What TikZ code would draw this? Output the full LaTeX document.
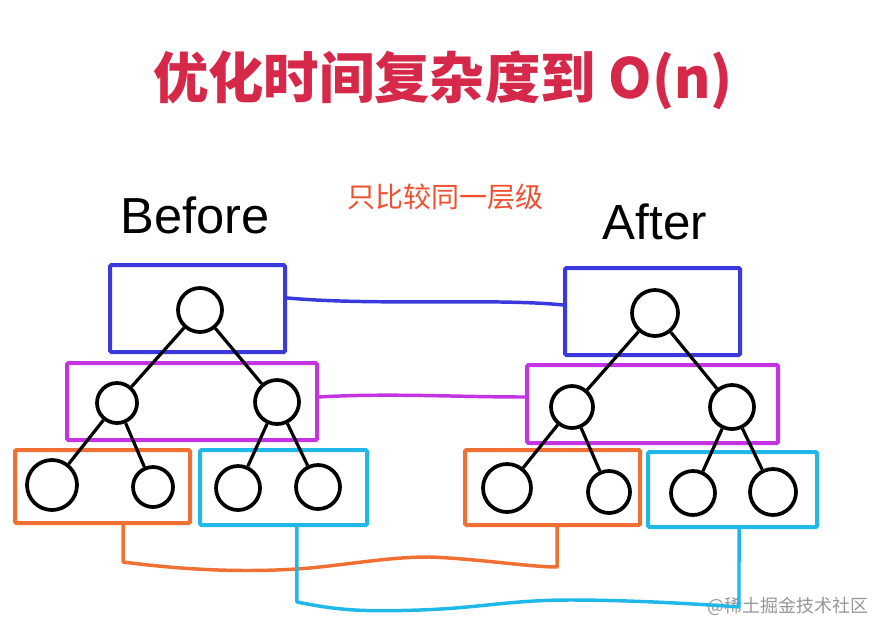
\documentclass[tikz,border=0pt]{standalone}
\usepackage{fontspec}
\setmainfont{Liberation Sans}
\newfontfamily\cjk{Noto Sans CJK SC}
\definecolor{titlered}{RGB}{214,40,72}
\definecolor{noteorange}{RGB}{240,80,48}
\definecolor{lvlblue}{RGB}{58,58,220}
\definecolor{lvlmag}{RGB}{196,52,226}
\definecolor{lvlorange}{RGB}{240,112,52}
\definecolor{lvlcyan}{RGB}{32,184,232}
\definecolor{wmgray}{RGB}{150,150,150}
\tikzset{
  lvlbox/.style={draw=#1, line width=3pt, rounded corners=1pt, inner sep=0pt, rectangle},
  tnode/.style={draw=black, line width=2.8pt, circle, inner sep=0pt, fill=white},
  edge/.style={draw=black, line width=2.4pt},
  link/.style={draw=#1, line width=2.6pt, line cap=round, line join=round},
}
\begin{document}
\begin{tikzpicture}[x=0.75pt,y=-0.75pt]
\useasboundingbox (0,0) rectangle (888,638);

% title and labels
\node[text=titlered, font=\cjk\bfseries\fontsize{41.5}{45}\selectfont] (title) at (443,80) {优化时间复杂度到 O(n)};
\node[text=noteorange, font=\cjk\fontsize{21}{24}\selectfont] (note) at (445,197) {只比较同一层级};
\node[font=\fontsize{38}{41}\selectfont] (before) at (195,215) {Before};
\node[font=\fontsize{37}{40}\selectfont] (after) at (655,222) {After};
\node[text=wmgray, font=\cjk\fontsize{13.5}{15}\selectfont] (wm) at (788,606) {@稀土掘金技术社区};

% level boxes - Before
\node[lvlbox=lvlblue,   minimum width=131.25pt, minimum height=65.25pt] (Bblue) at (197.5,308.5) {};
\node[lvlbox=lvlmag,    minimum width=187.5pt,  minimum height=57.75pt] (Bmag)  at (192,401.5) {};
\node[lvlbox=lvlorange, minimum width=131.25pt, minimum height=54.75pt] (Borg)  at (102.5,486.5) {};
\node[lvlbox=lvlcyan,   minimum width=125.25pt, minimum height=56.25pt] (Bcyan) at (283.5,487.5) {};
% level boxes - After
\node[lvlbox=lvlblue,   minimum width=131.25pt, minimum height=65.25pt] (Ablue) at (652.5,311.5) {};
\node[lvlbox=lvlmag,    minimum width=188.25pt, minimum height=58.5pt]  (Amag)  at (652.5,404) {};
\node[lvlbox=lvlorange, minimum width=131.25pt, minimum height=56.25pt] (Aorg)  at (552.5,487.5) {};
\node[lvlbox=lvlcyan,   minimum width=126.75pt, minimum height=56.25pt] (Acyan) at (732.5,489.5) {};

% tree nodes - Before
\node[tnode, minimum size=33pt]   (b0) at (200,310) {};
\node[tnode, minimum size=30pt]   (b1) at (117,403) {};
\node[tnode, minimum size=33pt]   (b2) at (277,402) {};
\node[tnode, minimum size=37.5pt] (b3) at (52,485) {};
\node[tnode, minimum size=30pt]   (b4) at (153,487) {};
\node[tnode, minimum size=33pt]   (b5) at (238,488) {};
\node[tnode, minimum size=33pt]   (b6) at (318,487) {};
% tree nodes - After
\node[tnode, minimum size=34.5pt] (a0) at (655,313) {};
\node[tnode, minimum size=31.5pt] (a1) at (572,407) {};
\node[tnode, minimum size=33pt]   (a2) at (732,407) {};
\node[tnode, minimum size=36pt]   (a3) at (507,488) {};
\node[tnode, minimum size=31.5pt] (a4) at (609,492) {};
\node[tnode, minimum size=33pt]   (a5) at (693,493) {};
\node[tnode, minimum size=34.5pt] (a6) at (773,492) {};

% tree edges
\foreach \p/\c in {b0/b1,b0/b2,b1/b3,b1/b4,b2/b5,b2/b6,a0/a1,a0/a2,a1/a3,a1/a4,a2/a5,a2/a6}
  \draw[edge] (\p) -- (\c);

% connectors between same levels
\draw[link=lvlblue] ([yshift=7.9pt]Bblue.east)
  .. controls +(90,8) and +(-70,-7) .. ([yshift=4.9pt]Ablue.west);
\draw[link=lvlmag] ([yshift=3.4pt]Bmag.east)
  .. controls +(70,-4) and +(-70,0) .. ([yshift=5.25pt]Amag.west);

\coordinate (o1) at ([xshift=15.4pt]Borg.south);
\coordinate (o2) at ([xshift=3.4pt]Aorg.south);
\draw[link=lvlorange] (o1) -- ++(0,37)
  .. controls +(77,10) and +(-50,4) .. ++(187,6)
  .. controls +(50,-5) and +(-40,0) .. ++(120,-11)
  .. controls +(50,2) and +(-27,0) .. ++(127,10)
  -- (o2);

\coordinate (c1) at ([xshift=10.1pt]Bcyan.south);
\coordinate (c2) at ([xshift=4.9pt]Acyan.south);
\draw[link=lvlcyan] (c1) -- ++(0,75)
  .. controls +(40,8) and +(-60,2) .. ++(123,8)
  .. controls +(60,-2) and +(-60,0) .. ++(150,-10)
  .. controls +(60,0) and +(-40,-3) .. ++(169,7)
  -- (c2);
\end{tikzpicture}
\end{document}
